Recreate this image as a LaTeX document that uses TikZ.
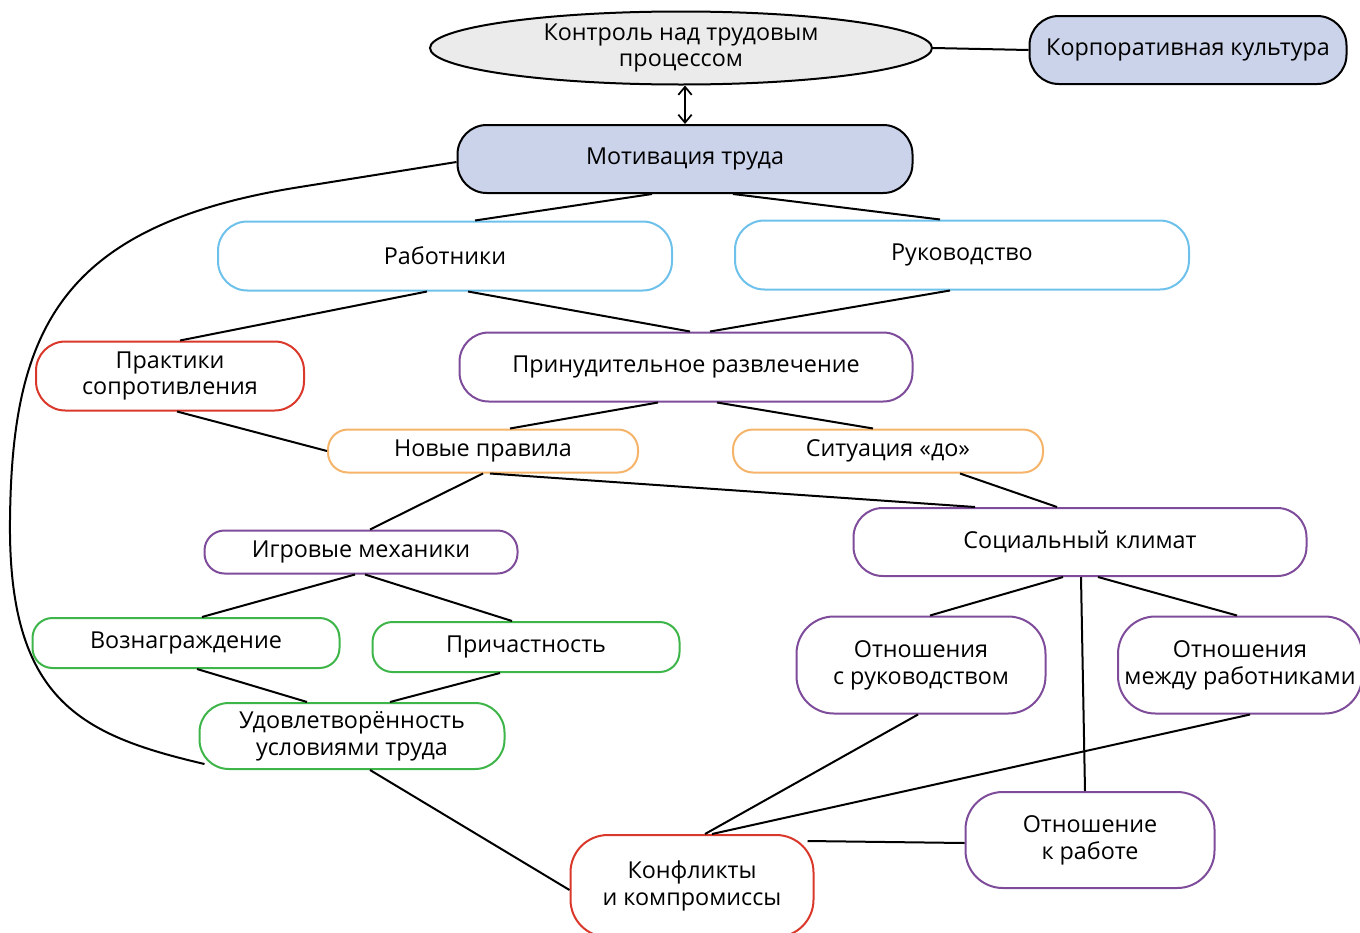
\documentclass[tikz,border=0pt]{standalone}
\usepackage{fontspec}
\setmainfont{Open Sans}
\usetikzlibrary{arrows.meta,positioning,calc,shapes.geometric}

\definecolor{capblue}{HTML}{CBD3EB}
\definecolor{capgray}{HTML}{EBEBEB}
\definecolor{edgesky}{HTML}{6EC1EA}
\definecolor{edgered}{HTML}{D9382B}
\definecolor{edgevio}{HTML}{7E4C9A}
\definecolor{edgeorg}{HTML}{F5B46A}
\definecolor{edgegrn}{HTML}{3EB549}

\begin{document}
\begin{tikzpicture}[x=0.75pt,y=-0.75pt,
  blk/.style={draw,line width=1.5pt,rounded corners=22pt,align=center,
              inner sep=1pt,fill=white,font=\fontsize{17.5}{20}\selectfont},
  low/.style={rounded corners=15pt},
  tall/.style={rounded corners=28pt},
  sz/.style 2 args={minimum width=#1*0.75pt,minimum height=#2*0.75pt},
  dark/.style={fill=capblue},
  sky/.style={draw=edgesky},
  rd/.style={draw=edgered},
  vio/.style={draw=edgevio},
  org/.style={draw=edgeorg},
  grn/.style={draw=edgegrn},
  ell/.style={ellipse,draw,line width=1.5pt,fill=capgray,align=center,
              inner sep=0pt,font=\fontsize{17.5}{20}\selectfont},
  ln/.style={line width=1.5pt},
  dbl/.style={{Straight Barb[length=6pt,width=10pt]}-{Straight Barb[length=6pt,width=10pt]},
              line width=1.3pt}]

  \useasboundingbox (0,0) rectangle (1360,932);

  % top row
  \node[ell,sz={502}{73}] (ctl) at (681,48) {Контроль над трудовым\\процессом};
  \node[blk,dark,sz={317}{68}] (corp) at (1188,50) {Корпоративная культура};
  \node[blk,dark,sz={455}{68}] (mot) at (685,159) {Мотивация труда};

  % actors
  \node[blk,sky,sz={454}{69}] (wrk) at (445,256) {Работники};
  \node[blk,sky,sz={454}{69}] (mgmt) at (962,255) {Руководство};
  \node[blk,rd,sz={268}{69}] (resist) at (170,376) {Практики\\сопротивления};
  \node[blk,vio,sz={453}{69}] (fun) at (686,367) {Принудительное развлечение};

  % rules and climate
  \node[blk,low,org,sz={310}{43}] (rules) at (483,451) {Новые правила};
  \node[blk,low,org,sz={310}{43}] (before) at (888,451) {Ситуация «до»};
  \node[blk,vio,sz={453}{68}] (clim) at (1080,542) {Социальный климат};
  \node[blk,low,vio,sz={313}{43}] (game) at (361,552) {Игровые механики};

  % left branch
  \node[blk,low,grn,sz={307}{50}] (reward) at (186,643) {Вознаграждение};
  \node[blk,low,grn,sz={307}{50}] (inv) at (526,647) {Причастность};
  \node[blk,grn,sz={305}{66}] (sat) at (352,736) {Удовлетворённость\\условиями труда};

  % right branch
  \node[blk,tall,vio,sz={249}{97}] (relm) at (921,665) {Отношения\\с руководством};
  \node[blk,tall,vio,sz={244}{97}] (relw) at (1240,665) {Отношения\\между работниками};
  \node[blk,tall,vio,sz={249}{96}] (relj) at (1090,840) {Отношение\\к работе};
  \node[blk,tall,rd,sz={243}{102}] (conf) at (692,886) {Конфликты\\и компромиссы};

  % links
  \draw[ln] (ctl.east) -- (corp.west);
  \draw[dbl] (mot.north |- ctl.south) -- (mot.north);
  \draw[ln] ($(mot.south)+(-33,0)$) -- ($(wrk.north)+(30,0)$);
  \draw[ln] ($(mot.south)+(48,0)$) -- ($(mgmt.north)+(-22,0)$);
  \draw[ln] ($(wrk.south)+(-18,0)$) -- ($(resist.north)+(10,0)$);
  \draw[ln] ($(wrk.south)+(23,0)$) -- ($(fun.north)+(4,0)$);
  \draw[ln] ($(mgmt.south)+(-12,0)$) -- ($(fun.north)+(24,0)$);
  \draw[ln] ($(resist.south)+(7,0)$) -- (rules.west);
  \draw[ln] ($(fun.south)+(-28,0)$) -- ($(rules.north)+(27,0)$);
  \draw[ln] ($(fun.south)+(31,0)$) -- ($(before.north)+(-15,0)$);
  \draw[ln] (rules.south) -- ($(game.north)+(9,0)$);
  \draw[ln] ($(rules.south)+(7,0)$) -- ($(clim.north)+(-105,0)$);
  \draw[ln] ($(before.south)+(72,0)$) -- ($(clim.north)+(-23,0)$);
  \draw[ln] ($(game.south)+(-6,0)$) -- ($(reward.north)+(16,0)$);
  \draw[ln] ($(game.south)+(4,0)$) -- ($(inv.north)+(-14,0)$);
  \draw[ln] ($(reward.south)+(11,0)$) -- ($(sat.north)+(-45,0)$);
  \draw[ln] ($(inv.south)+(-26,0)$) -- ($(sat.north)+(38,0)$);
  \draw[ln] ($(sat.south)+(18,0)$) -- ($(conf.west)+(0,4)$);
  \draw[ln] ($(clim.south)+(-17,0)$) -- ($(relm.north)+(9,0)$);
  \draw[ln] ($(clim.south)+(18,0)$) -- ($(relw.north)+(-3,0)$);
  \draw[ln] ($(clim.south)+(1,0)$) -- ($(relj.north)+(-5,0)$);
  \draw[ln] ($(relm.south)+(-3,0)$) -- ($(conf.north)+(13,0)$);
  \draw[ln] ($(relw.south)+(10,0)$) -- ($(conf.north)+(20,0)$);
  \draw[ln] ($(conf.north east)+(-7,7)$) -- ($(relj.west)+(0,3)$);

  % long arc on the left
  \draw[ln] ($(mot.west)+(0,3)$) -- (300,187)
     .. controls (60,225) and (12,330) .. (10,520)
     .. controls (8,700) and (80,735) .. ($(sat.south west)+(6,-6)$);
\end{tikzpicture}
\end{document}
